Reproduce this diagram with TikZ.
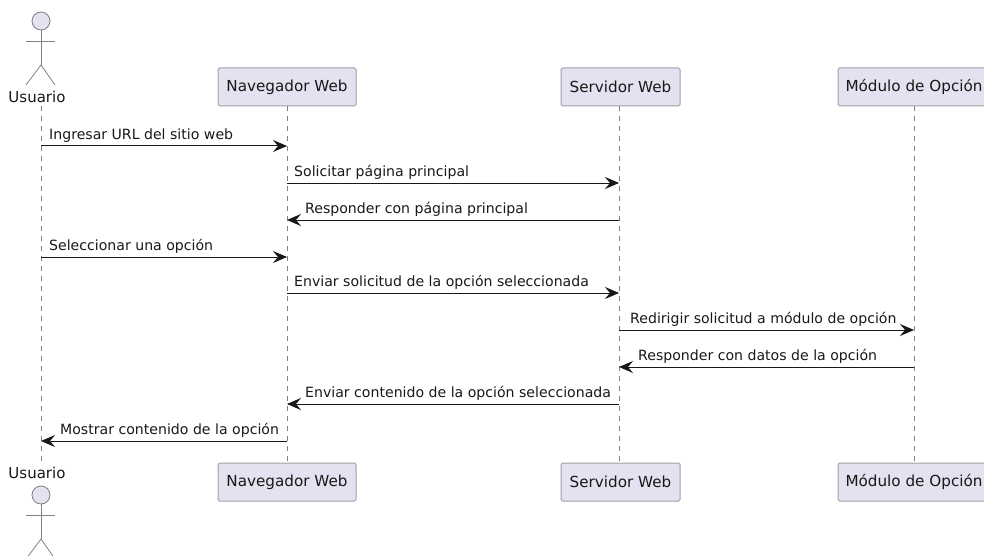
\documentclass[tikz,border=0pt]{standalone}
\usepackage{fontspec}
\setmainfont{DejaVu Sans}
\usetikzlibrary{arrows.meta}
\definecolor{boxfill}{HTML}{E2E2F0}
\definecolor{boxline}{HTML}{A0A0A8}
\definecolor{lifeline}{HTML}{808080}
\definecolor{ink}{HTML}{181818}
\tikzset{
	party/.style={draw=boxline, fill=boxfill, rounded corners=1.5pt, line width=1pt, minimum height=38pt, inner xsep=0pt, text=ink, font=\fontsize{15.2}{17}\selectfont},
	actorname/.style={inner sep=0pt, minimum height=18pt, text=ink, font=\fontsize{15}{17}\selectfont},
	actorline/.style={draw=lifeline, line width=0.8pt},
	life/.style={draw=lifeline, line width=0.7pt, dash pattern=on 5pt off 5pt},
	msg/.style={draw=ink, line width=1pt, -{Stealth[length=14pt, width=12pt, inset=5pt]}},
	msgtext/.style={anchor=base west, inner sep=0pt, text=ink, font=\fontsize{14.1}{16}\selectfont}
}
\begin{document}
\begin{tikzpicture}[x=1pt,y=1pt,yscale=-1,xscale=1]
		\useasboundingbox (0,0) rectangle (984,556);

		% Participants along the top
		\node[actorname] (userTop) at (37,97) {Usuario};
		\node[party, minimum width=138pt] (navTop) at (287,87) {Navegador Web};
		\node[party, minimum width=119pt] (srvTop) at (620.5,87) {Servidor Web};
		\node[party, minimum width=152pt] (modTop) at (914,87) {Módulo de Opción};

		% Participants along the bottom
		\node[actorname] (userBot) at (37,473) {Usuario};
		\node[party, minimum width=138pt] (navBot) at (287,482) {Navegador Web};
		\node[party, minimum width=119pt] (srvBot) at (620.5,482) {Servidor Web};
		\node[party, minimum width=152pt] (modBot) at (914,482) {Módulo de Opción};

		% Stick figure on top
		\node[actorline, fill=boxfill, circle, minimum size=18pt, inner sep=0pt] (headTop) at (41,21) {};
		\coordinate (hipTop) at (41,65);
		\draw[actorline] (headTop) -- (hipTop);
		\draw[actorline] (26,41) -- (55,41);
		\draw[actorline] (26,85) -- (hipTop) -- (55,85);

		% Stick figure on the bottom
		\node[actorline, fill=boxfill, circle, minimum size=18pt, inner sep=0pt] (headBot) at (41,495) {};
		\coordinate (hipBot) at (41,539);
		\draw[actorline] (headBot) -- (hipBot);
		\draw[actorline] (26,515) -- (55,515);
		\draw[actorline] (26,559) -- (hipBot) -- (55,559);

		% Lifelines
		\coordinate (userA) at (41,106);
		\coordinate (userB) at (41,464);
		\draw[life] (userA) -- (userB);
		\coordinate (navA) at (287,106);
		\coordinate (navB) at (287,463);
		\draw[life] (navA) -- (navB);
		\coordinate (srvA) at (619,106);
		\coordinate (srvB) at (619,463);
		\draw[life] (srvA) -- (srvB);
		\coordinate (modA) at (914,106);
		\coordinate (modB) at (914,463);
		\draw[life] (modA) -- (modB);

		% Message ends on the lifelines
		\coordinate (u1) at (41,146);   \coordinate (n1) at (287,146);
		\coordinate (n2) at (287,183);  \coordinate (s2) at (619,183);
		\coordinate (s3) at (619,220);  \coordinate (n3) at (287,220);
		\coordinate (u4) at (41,257);   \coordinate (n4) at (287,257);
		\coordinate (n5) at (287,293);  \coordinate (s5) at (619,293);
		\coordinate (s6) at (619,330);  \coordinate (m6) at (914,330);
		\coordinate (m7) at (914,367);  \coordinate (s7) at (619,367);
		\coordinate (s8) at (619,404);  \coordinate (n8) at (287,404);
		\coordinate (n9) at (287,441);  \coordinate (u9) at (41,441);

		% Messages
		\draw[msg] (u1) -- (n1);
		\draw[msg] (n2) -- (s2);
		\draw[msg] (s3) -- (n3);
		\draw[msg] (u4) -- (n4);
		\draw[msg] (n5) -- (s5);
		\draw[msg] (s6) -- (m6);
		\draw[msg] (m7) -- (s7);
		\draw[msg] (s8) -- (n8);
		\draw[msg] (n9) -- (u9);

		% Message labels
		\node[msgtext] (label1) at (49,139.5) {Ingresar URL del sitio web};
		\node[msgtext] (label2) at (294,176.5) {Solicitar página principal};
		\node[msgtext] (label3) at (305,213.5) {Responder con página principal};
		\node[msgtext] (label4) at (49,250.5) {Seleccionar una opción};
		\node[msgtext] (label5) at (294,286.5) {Enviar solicitud de la opción seleccionada};
		\node[msgtext] (label6) at (630,323.5) {Redirigir solicitud a módulo de opción};
		\node[msgtext] (label7) at (638,360.5) {Responder con datos de la opción};
		\node[msgtext] (label8) at (305,397.5) {Enviar contenido de la opción seleccionada};
		\node[msgtext] (label9) at (60,434.5) {Mostrar contenido de la opción};
	\end{tikzpicture}
\end{document}
